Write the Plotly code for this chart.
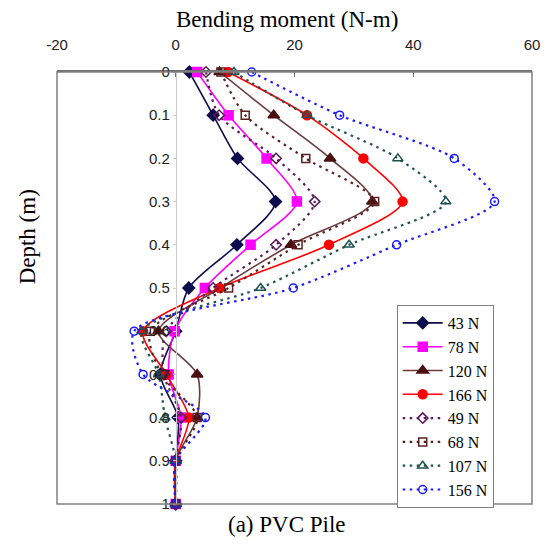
import plotly.graph_objects as go

depth = [0.0, 0.1, 0.2, 0.3, 0.4, 0.5, 0.6, 0.7, 0.8, 0.9, 1.0]

m_43 = [2.3, 6.3, 10.4, 16.8, 10.3, 2.2, 0.0, -2.6, 0.4, 0.0, 0.0]
m_78 = [3.6, 8.9, 15.3, 20.4, 12.6, 4.9, -0.2, -1.2, 0.9, 0.0, 0.0]
m_120 = [7.4, 16.5, 26.0, 33.1, 19.4, 7.5, -2.9, 3.6, 3.6, 0.0, 0.0]
m_166 = [8.8, 22.1, 31.6, 38.2, 25.8, 7.4, -5.5, -1.6, 2.2, 0.0, 0.0]
m_49 = [5.1, 7.3, 16.9, 23.4, 16.9, 6.3, -1.6, -2.0, 0.9, 0.0, 0.0]
m_68 = [7.6, 11.7, 21.9, 33.5, 20.6, 8.9, -4.3, -2.4, 3.6, 0.0, 0.0]
m_107 = [9.8, 22.1, 37.4, 45.5, 29.2, 14.3, -5.7, -2.9, -1.8, 0.0, 0.0]
m_156 = [12.8, 27.6, 46.9, 53.7, 37.2, 19.8, -7.0, -5.5, 5.0, 0.0, 0.0]

x_ticks = [-20, 0, 20, 40, 60]
x_ticktext = ["-20", "0", "20", "40", "60"]
y_ticks = [0, 0.1, 0.2, 0.3, 0.4, 0.5, 0.6, 0.7, 0.8, 0.9, 1]
y_ticktext = ["0", "0.1", "0.2", "0.3", "0.4", "0.5", "0.6", "0.7", "0.8", "0.9", "1"]

series = [
    ("43 N", m_43, "#0d0d4d", "solid", "diamond", 9),
    ("78 N", m_78, "#ff00ff", "solid", "square", 9),
    ("120 N", m_120, "#4a1010", "solid", "triangle-up", 10),
    ("166 N", m_166, "#ff0000", "solid", "circle", 9),
    ("49 N", m_49, "#5a1a5a", "dot", "diamond-open", 8),
    ("68 N", m_68, "#5a2020", "dot", "square-open", 8),
    ("107 N", m_107, "#1e5050", "dot", "triangle-up-open", 9),
    ("156 N", m_156, "#1a1aff", "dot", "circle-open", 8),
]

fig = go.Figure()
for name, vals, color, dash, sym, size in series:
    line_color = "#6b3a3a" if name == "120 N" else color
    fig.add_trace(go.Scatter(
        x=vals, y=depth, name=name, mode="lines+markers",
        line=dict(color=line_color, width=1.6 if dash == "solid" else 2.2,
                  dash="solid" if dash == "solid" else "2.5px,4.5px",
                  shape="spline", smoothing=0.8),
        marker=dict(symbol=sym, size=size, color=color,
                    line=dict(color=color, width=1.5)),
        cliponaxis=False,
    ))

W, H = 552, 547
L, R, T, B = 57, 14, 72, 43
pw = W - L - R
ph = H - T - B

fig.update_layout(
    width=W, height=H,
    margin=dict(l=L, r=R, t=T, b=B),
    paper_bgcolor="white", plot_bgcolor="white",
    showlegend=True,
    legend=dict(
        x=(401 - L) / pw, y=(504 - 305) / ph, xanchor="left", yanchor="top",
        bordercolor="#808080", borderwidth=1, bgcolor="white",
        font=dict(family="Liberation Serif", size=16, color="black"),
        tracegroupgap=0, itemwidth=40,
    ),
    xaxis=dict(
        range=[-20, 60], side="top", tickvals=x_ticks, ticktext=x_ticktext,
        showline=True, linecolor="#707070", linewidth=1.5,
        ticks="inside", ticklen=5, tickcolor="#707070",
        showgrid=False, zeroline=False,
        tickfont=dict(family="Liberation Sans", size=15, color="#222"),
        ticklabelstandoff=14,
    ),
    yaxis=dict(
        range=[1.0, 0.0], tickvals=y_ticks, ticktext=y_ticktext,
        anchor="free", position=0.25,
        showline=True, linecolor="#cccccc", linewidth=1,
        ticks="outside", ticklen=3, tickcolor="#cccccc",
        showgrid=False, zeroline=False,
        tickfont=dict(family="Liberation Sans", size=15, color="#222"),
    ),
    shapes=[dict(type="rect", xref="paper", yref="paper", x0=0, x1=1, y0=0, y1=1,
                 line=dict(color="#808080", width=1.5), layer="above")],
    annotations=[
        dict(text="Bending moment (N-m)", xref="paper", yref="paper",
             x=(290 - L) / pw, y=1 + (T - 19) / ph, showarrow=False,
             xanchor="center", yanchor="middle",
             font=dict(family="Liberation Serif", size=23, color="black")),
        dict(text="Depth (m)", xref="paper", yref="paper",
             x=(27 - L) / pw, y=(504 - 237) / ph, showarrow=False, textangle=-90,
             xanchor="center", yanchor="middle",
             font=dict(family="Liberation Serif", size=23, color="black")),
        dict(text="(a) PVC Pile", xref="paper", yref="paper",
             x=(290 - L) / pw, y=-(524 - 504) / ph, showarrow=False,
             xanchor="center", yanchor="middle",
             font=dict(family="Liberation Serif", size=23, color="black")),
    ],
)

fig.write_html("out.html")
